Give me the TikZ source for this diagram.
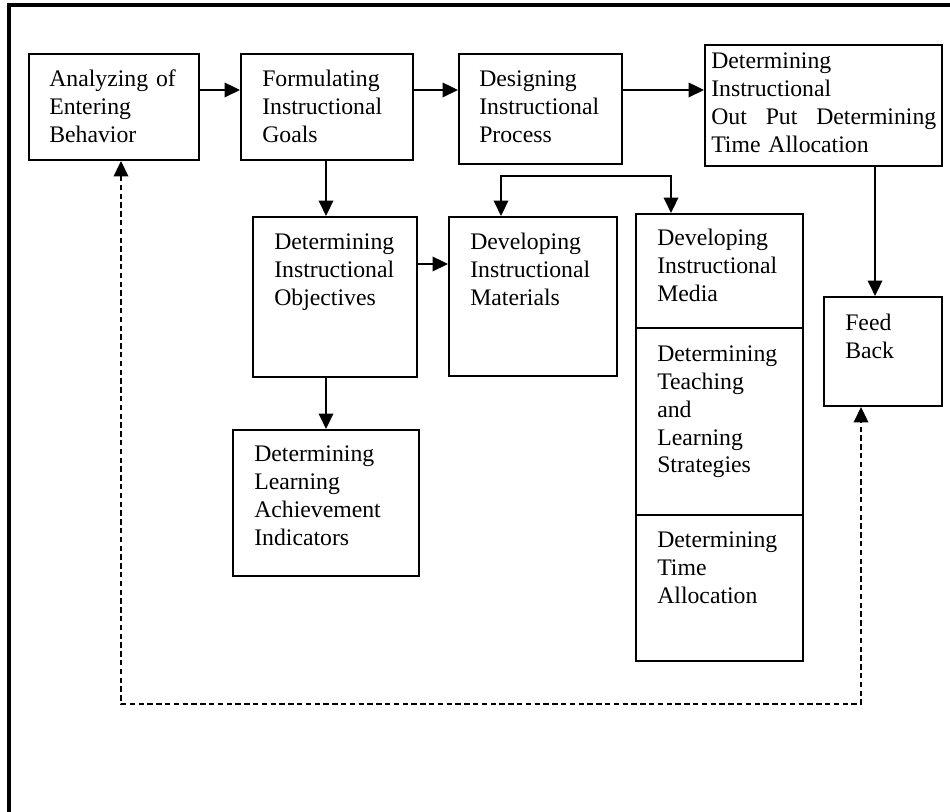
\documentclass[tikz,border=0pt]{standalone}
\usepackage{fontspec}
\setmainfont{Liberation Serif}
\usetikzlibrary{fit,arrows.meta}
\newcommand{\boxfont}{\fontsize{17.8}{20.8}\selectfont}
\begin{document}
\begin{tikzpicture}[x=0.75pt,y=-0.75pt,
  box/.style={draw,line width=1.7pt,inner sep=0pt,line join=miter},
  lbl/.style={anchor=base west,align=left,text width=135pt,inner sep=0pt,font=\boxfont},
  tip/.style={Triangle[length=11.5pt,width=11pt]},
  arr/.style={line width=1.4pt,-{Triangle[length=11.5pt,width=11pt]}},
  darr/.style={line width=1.4pt,dash pattern=on 4pt off 2.6pt,
    {Triangle[length=11.5pt,width=11pt]}-{Triangle[length=11.5pt,width=11pt]}},
  frame/.style={line width=2.4pt}]
\useasboundingbox (0,0) rectangle (950,812);
\fill[white] (0,0) rectangle (950,812);

% outer frame
\coordinate (fb) at (9,812);
\coordinate (fc) at (9,5);
\coordinate (fr) at (950,5);
\draw[frame] (fb) -- (fc) -- (fr);

% boxes
\node[box,fit={(29,54) (199,160)}] (A) {};
\node[box,fit={(241,54) (413,160)}] (B) {};
\node[box,fit={(459,54) (622,164)}] (C) {};
\node[box,fit={(705,45) (942,166)}] (D) {};
\node[box,fit={(253,217) (417,377)}] (E) {};
\node[box,fit={(449,217) (617,376)}] (F) {};
\node[box,fit={(636,214) (803,328)}] (G1) {};
\node[box,fit={(636,328) (803,515)}] (G2) {};
\node[box,fit={(636,515) (803,661)}] (G3) {};
\node[box,fit={(824,297) (942,406)}] (FB) {};
\node[box,fit={(233,430) (419,576)}] (H) {};

% texts
\node[lbl] (tA) at (49,87) {Analyzing of\\Entering\\Behavior};
\node[lbl] (tB) at (262,87) {Formulating\\Instructional\\Goals};
\node[lbl] (tC) at (479,87) {Designing\\Instructional\\Process};
\node[lbl,text width=168.75pt] (tD) at (711,69)
  {Determining\\Instructional\\Out\hfill Put\hfill Determining\\Time Allocation};
\node[lbl] (tE) at (274,250) {Determining\\Instructional\\Objectives};
\node[lbl] (tF) at (470,250) {Developing\\Instructional\\Materials};
\node[lbl] (tG1) at (657,246) {Developing\\Instructional\\Media};
\node[lbl] (tG2) at (657,362) {Determining\\Teaching\\and\\Learning\\Strategies};
\node[lbl] (tG3) at (657,548) {Determining\\Time\\Allocation};
\node[lbl,text width=70pt] (tFB) at (845,331) {Feed\\Back};
\node[lbl] (tH) at (254,462) {Determining\\Learning\\Achievement\\Indicators};

% routing points
\coordinate (r1) at (0,90);
\coordinate (r2) at (0,264);
\coordinate (bx) at (326,0);
\coordinate (dx) at (875,0);
\coordinate (bl) at (501,176);
\coordinate (br) at (671,176);
\coordinate (lp) at (121,704);
\coordinate (rp) at (861,704);

% connectors
\draw[arr] (A.east |- r1) -- (B.west |- r1);
\draw[arr] (B.east |- r1) -- (C.west |- r1);
\draw[arr] (C.east |- r1) -- (D.west |- r1);
\draw[arr] (B.south -| bx) -- (E.north -| bx);
\draw[arr] (E.east |- r2) -- (F.west |- r2);
\draw[arr] (E.south -| bx) -- (H.north -| bx);
\draw[arr] (D.south -| dx) -- (FB.north -| dx);
\draw[line width=1.4pt,{Triangle[length=11.5pt,width=11pt]}-{Triangle[length=11.5pt,width=11pt]}]
  (F.north -| bl) -- (bl) -- (br) -- (G1.north -| br);
\draw[darr] (A.south -| lp) -- (lp) -- (rp) -- (FB.south -| rp);
\end{tikzpicture}
\end{document}
